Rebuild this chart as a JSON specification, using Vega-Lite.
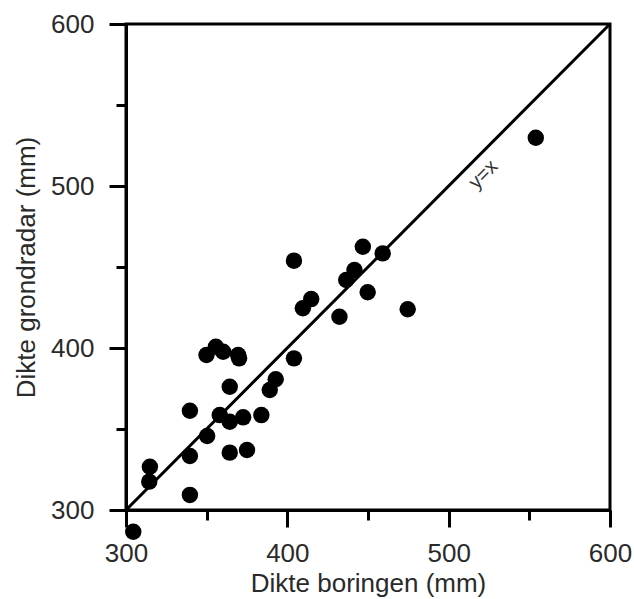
{
  "$schema": "https://vega.github.io/schema/vega-lite/v6.json",
  "autosize": "none",
  "width": 484,
  "height": 486,
  "padding": {"left": 126, "top": 24, "right": 24, "bottom": 89},
  "background": "white",
  "config": {
    "view": {"stroke": "black", "strokeWidth": 3},
    "font": "Liberation Sans",
    "axis": {
      "domainColor": "black",
      "domainWidth": 3,
      "tickColor": "black",
      "tickWidth": 3,
      "grid": false,
      "labelFont": "Liberation Sans",
      "labelFontSize": 26,
      "labelColor": "#2a2a2a",
      "titleFont": "Liberation Sans",
      "titleFontSize": 26,
      "titleFontWeight": "normal",
      "titleColor": "#2a2a2a"
    }
  },
  "datasets": {
    "pts": [
      {"boring": 304.5, "radar": 286.6},
      {"boring": 314.8, "radar": 326.7},
      {"boring": 314.4, "radar": 317.5},
      {"boring": 339.6, "radar": 309.3},
      {"boring": 339.6, "radar": 361.3},
      {"boring": 339.6, "radar": 333.3},
      {"boring": 350.3, "radar": 345.7},
      {"boring": 349.9, "radar": 395.7},
      {"boring": 355.7, "radar": 400.8},
      {"boring": 360.2, "radar": 397.7},
      {"boring": 369.5, "radar": 395.7},
      {"boring": 370.1, "radar": 393.6},
      {"boring": 364.3, "radar": 376.1},
      {"boring": 358.1, "radar": 358.6},
      {"boring": 364.3, "radar": 354.5},
      {"boring": 372.6, "radar": 357.2},
      {"boring": 383.9, "radar": 358.6},
      {"boring": 364.3, "radar": 335.4},
      {"boring": 375.0, "radar": 337.0},
      {"boring": 389.1, "radar": 374.1},
      {"boring": 392.8, "radar": 380.7},
      {"boring": 404.1, "radar": 393.6},
      {"boring": 404.1, "radar": 453.9},
      {"boring": 446.8, "radar": 462.5},
      {"boring": 459.1, "radar": 458.4},
      {"boring": 441.6, "radar": 448.1},
      {"boring": 436.5, "radar": 442.0},
      {"boring": 449.8, "radar": 434.4},
      {"boring": 414.8, "radar": 430.2},
      {"boring": 409.6, "radar": 424.5},
      {"boring": 432.3, "radar": 419.3},
      {"boring": 474.6, "radar": 423.9},
      {"boring": 554.0, "radar": 529.8}
    ],
    "diag": [
      {"boring": 300, "radar": 300},
      {"boring": 600, "radar": 600}
    ],
    "lbl": [
      {"boring": 521.5, "radar": 507.0, "text": "y=x"}
    ]
  },
  "layer": [
    {
      "data": {"name": "diag"},
      "mark": {"type": "line", "color": "black", "strokeWidth": 3},
      "encoding": {
        "x": {
          "field": "boring",
          "type": "quantitative",
          "scale": {"domain": [300, 600], "nice": false, "zero": false},
          "axis": {
            "title": "Dikte boringen (mm)",
            "values": [300, 350, 400, 450, 500, 550, 600],
            "labelExpr": "datum.value % 100 == 0 ? datum.label : ''",
            "tickSize": {"condition": {"test": "datum.value % 100 != 0", "value": 10}, "value": 17},
            "labelPadding": 13,
            "titlePadding": 4,
            "labelFlush": false,
            "labelOverlap": false
          }
        },
        "y": {
          "field": "radar",
          "type": "quantitative",
          "scale": {"domain": [300, 600], "nice": false, "zero": false},
          "axis": {
            "title": "Dikte grondradar (mm)",
            "values": [300, 350, 400, 450, 500, 550, 600],
            "labelExpr": "datum.value % 100 == 0 ? datum.label : ''",
            "tickSize": {"condition": {"test": "datum.value % 100 != 0", "value": 10}, "value": 17},
            "labelPadding": 15,
            "titlePadding": 11,
            "labelFlush": false,
            "labelOverlap": false
          }
        }
      }
    },
    {
      "data": {"name": "pts"},
      "mark": {"type": "circle", "color": "black", "opacity": 1, "size": 270},
      "encoding": {
        "x": {"field": "boring", "type": "quantitative"},
        "y": {"field": "radar", "type": "quantitative"}
      }
    },
    {
      "data": {"name": "lbl"},
      "mark": {"type": "text", "angle": 315, "fontSize": 20, "color": "#333", "align": "center", "baseline": "middle", "font": "Liberation Sans"},
      "encoding": {
        "x": {"field": "boring", "type": "quantitative"},
        "y": {"field": "radar", "type": "quantitative"},
        "text": {"field": "text"}
      }
    }
  ]
}
